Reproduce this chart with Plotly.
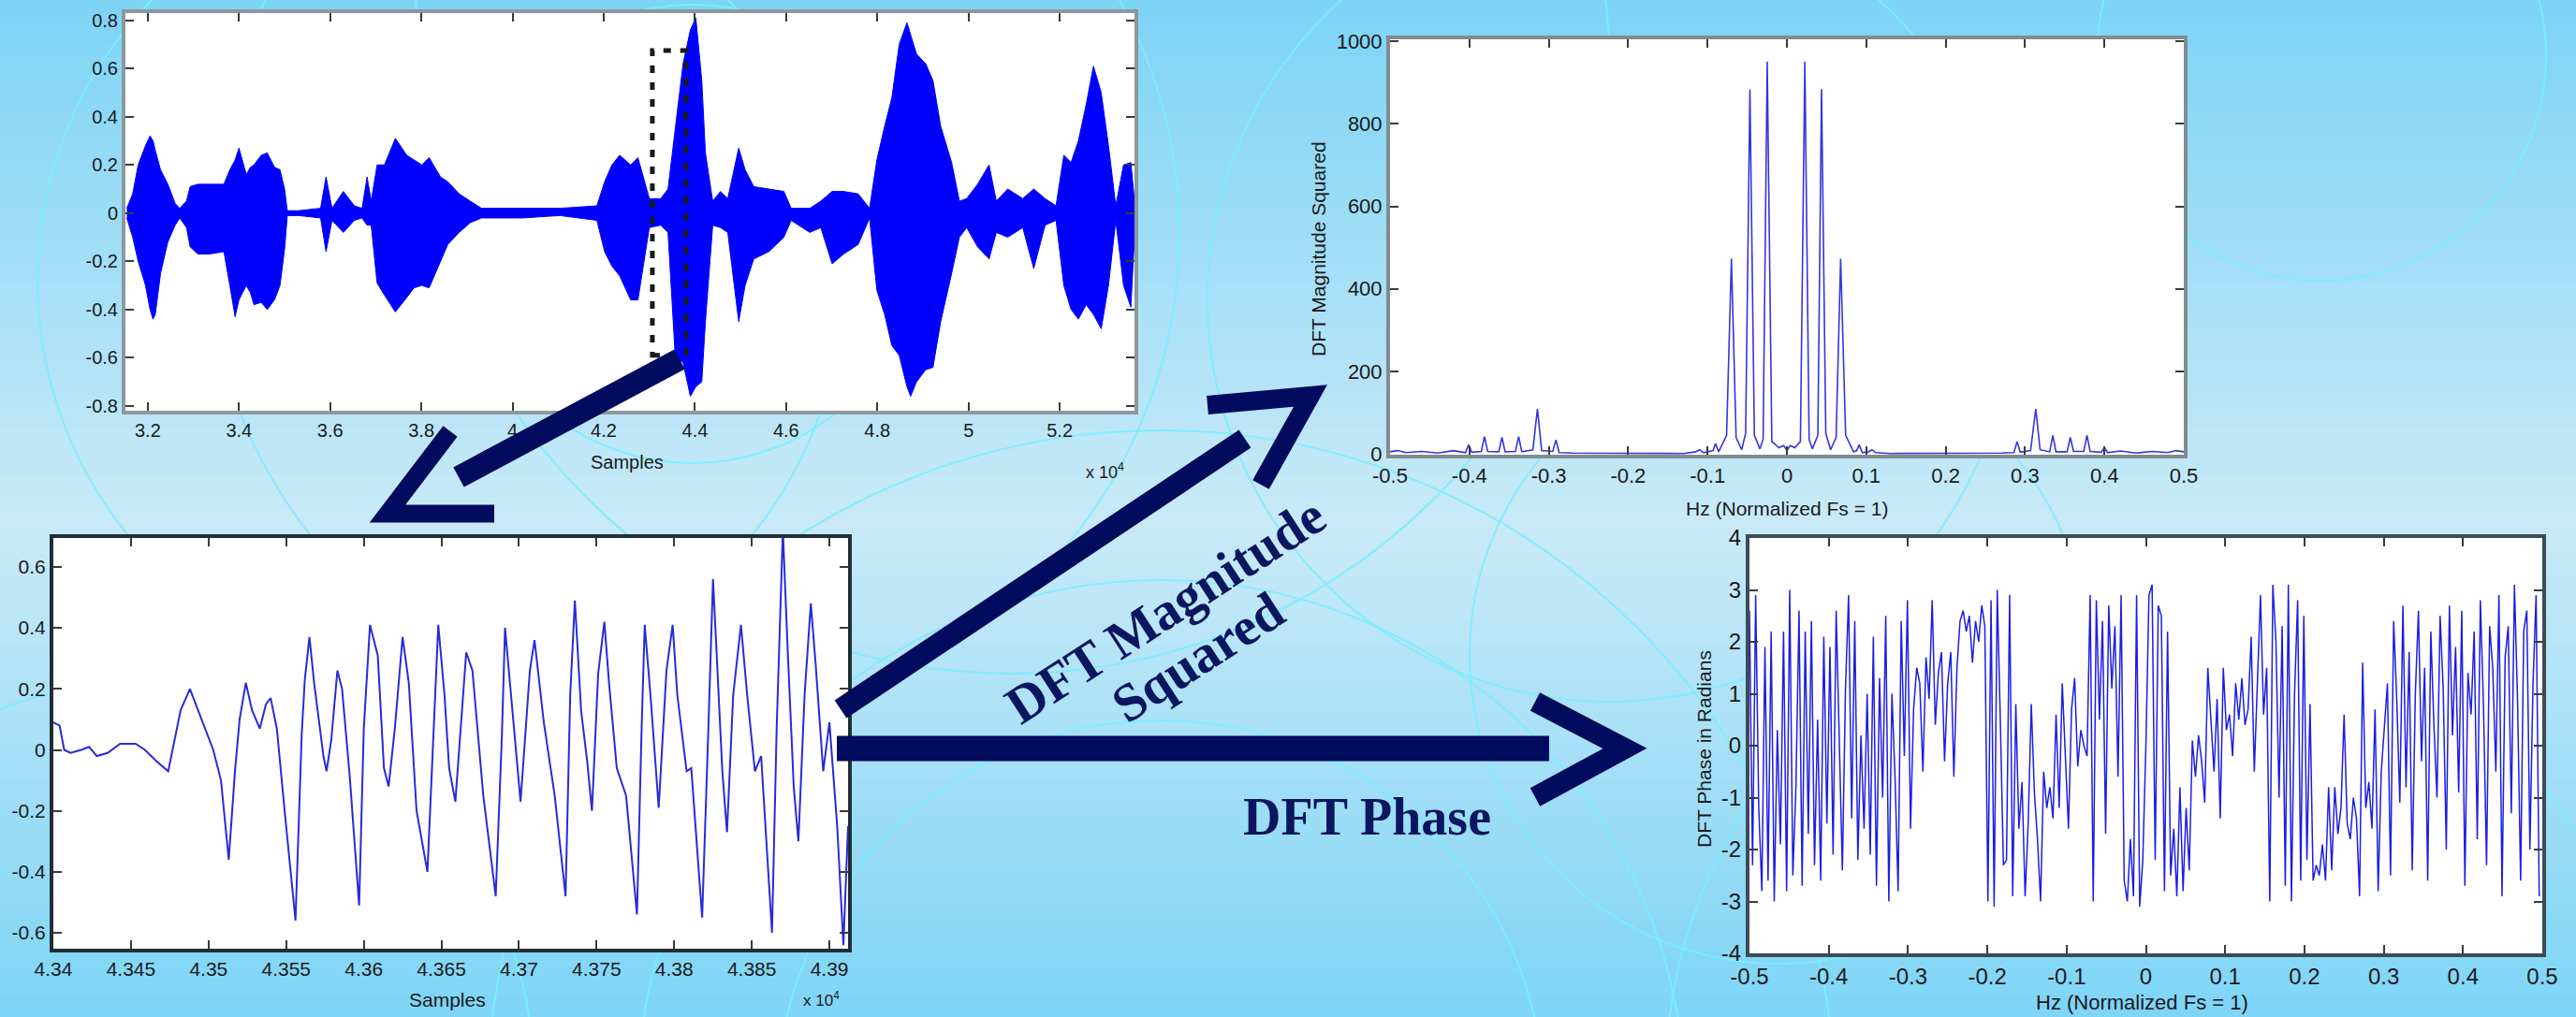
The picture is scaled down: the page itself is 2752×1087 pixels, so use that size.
import plotly.graph_objects as go

W, H = 2752, 1087

# ---------------- data ----------------
# Top-left: whole utterance, envelope of the waveform (sample index, upper, lower)
wave_x = [31540, 31670, 31790, 31950, 32050, 32115, 32165, 32280, 32440, 32600,
          32700, 32850, 32930, 33100, 33340, 33670, 33800, 33915, 34000, 34160,
          34250, 34330, 34490, 34620, 34780, 34900, 35000, 35060, 35300, 35790,
          35910, 36040, 36290, 36530, 36700, 36810, 36900, 37030, 37190, 37430,
          37680, 37840, 38010, 38170, 38420, 38580, 38830, 39070, 39320, 40220,
          41040, 41850, 42020, 42180, 42350, 42590, 42750, 43000, 43250, 43410,
          43570, 43740, 43900, 44020, 44150, 44230, 44390, 44560, 44720, 44960,
          45100, 45290, 45620, 45950, 46110, 46520, 46760, 47010, 47260, 47580,
          47830, 47990, 48160, 48320, 48480, 48650, 48730, 48860, 49060, 49220,
          49390, 49630, 49800, 49960, 50200, 50450, 50610, 50860, 51190, 51430,
          51680, 51920, 52090, 52250, 52410, 52580, 52740, 52910, 53070, 53230,
          53400, 53560, 53640]
wave_hi = [0.02, 0.08, 0.20, 0.28, 0.32, 0.30, 0.26, 0.18, 0.12, 0.04,
           0.02, 0.05, 0.11, 0.12, 0.12, 0.12, 0.18, 0.22, 0.27, 0.16,
           0.19, 0.20, 0.24, 0.25, 0.19, 0.18, 0.10, 0.01, 0.01, 0.02,
           0.15, 0.02, 0.09, 0.03, 0.02, 0.15, 0.05, 0.20, 0.20, 0.31,
           0.24, 0.22, 0.20, 0.23, 0.15, 0.13, 0.08, 0.05, 0.02, 0.02,
           0.02, 0.03, 0.13, 0.20, 0.24, 0.20, 0.23, 0.06, 0.06, 0.10,
           0.35, 0.62, 0.76, 0.81, 0.55, 0.25, 0.05, 0.09, 0.06, 0.27,
           0.18, 0.11, 0.10, 0.09, 0.02, 0.02, 0.05, 0.09, 0.09, 0.08,
           0.02, 0.22, 0.36, 0.48, 0.70, 0.79, 0.74, 0.66, 0.62, 0.55,
           0.36, 0.21, 0.05, 0.06, 0.12, 0.20, 0.05, 0.10, 0.06, 0.10,
           0.06, 0.03, 0.24, 0.21, 0.30, 0.45, 0.61, 0.50, 0.28, 0.03,
           0.20, 0.21, 0.05]
wave_lo = [-0.02, -0.10, -0.20, -0.30, -0.40, -0.44, -0.42, -0.25, -0.12, -0.05,
           -0.02, -0.06, -0.14, -0.17, -0.17, -0.16, -0.30, -0.43, -0.36, -0.30,
           -0.33, -0.38, -0.37, -0.40, -0.36, -0.30, -0.15, -0.01, -0.01, -0.02,
           -0.16, -0.03, -0.08, -0.03, -0.02, -0.05, -0.05, -0.29, -0.34, -0.41,
           -0.35, -0.31, -0.30, -0.31, -0.20, -0.13, -0.08, -0.04, -0.02, -0.02,
           -0.01, -0.03, -0.16, -0.22, -0.26, -0.36, -0.36, -0.06, -0.05, -0.08,
           -0.60, -0.62, -0.76, -0.72, -0.70, -0.45, -0.05, -0.06, -0.08, -0.45,
           -0.30, -0.19, -0.16, -0.10, -0.03, -0.08, -0.06, -0.21, -0.17, -0.13,
           -0.02, -0.32, -0.42, -0.55, -0.59, -0.72, -0.76, -0.70, -0.65, -0.64,
           -0.45, -0.25, -0.10, -0.06, -0.14, -0.19, -0.08, -0.10, -0.06, -0.23,
           -0.05, -0.03, -0.30, -0.40, -0.44, -0.38, -0.42, -0.48, -0.30, -0.03,
           -0.30, -0.39, -0.10]

# Bottom-left: the 512-sample excerpt
seg_x = [43400, 43404, 43407, 43411, 43418, 43423, 43428, 43435, 43443, 43453,
         43459, 43467, 43474, 43482, 43488, 43496, 43503, 43508, 43513, 43517,
         43520, 43524, 43528, 43533, 43537, 43540, 43544, 43549, 43556, 43560,
         43562, 43565, 43568, 43574, 43576, 43579, 43583, 43586, 43591, 43597,
         43600, 43604, 43609, 43613, 43616, 43620, 43625, 43629, 43634, 43641,
         43645, 43648, 43652, 43655, 43659, 43666, 43670, 43677, 43685, 43689,
         43691, 43696, 43701, 43707, 43710, 43716, 43723, 43730, 43733, 43736,
         43740, 43744, 43747, 43751, 43755, 43758, 43763, 43769, 43776, 43779,
         43781, 43785, 43790, 43795, 43799, 43802, 43808, 43811, 43818, 43822,
         43825, 43831, 43834, 43838, 43843, 43847, 43852, 43856, 43863, 43866,
         43870, 43873, 43877, 43880, 43884, 43888, 43891, 43896, 43900, 43905,
         43909, 43912]
seg_y = [0.09, 0.08, 0.00, -0.01, 0.00, 0.01, -0.02, -0.01, 0.02, 0.02,
         0.00, -0.04, -0.07, 0.13, 0.20, 0.09, 0.00, -0.10, -0.36, -0.07,
         0.10, 0.22, 0.13, 0.07, 0.15, 0.17, 0.07, -0.20, -0.56, 0.05,
         0.23, 0.37, 0.22, -0.02, -0.07, 0.03, 0.26, 0.20, -0.09, -0.51,
         0.07, 0.41, 0.31, -0.06, -0.12, 0.07, 0.37, 0.22, -0.20, -0.40,
         0.04, 0.41, 0.18, -0.06, -0.17, 0.32, 0.26, -0.15, -0.48, 0.05,
         0.40, 0.12, -0.17, 0.26, 0.36, 0.09, -0.15, -0.48, 0.18, 0.49,
         0.13, -0.04, -0.20, 0.25, 0.42, 0.22, -0.06, -0.15, -0.54, 0.07,
         0.41, 0.16, -0.19, 0.26, 0.41, 0.18, -0.07, -0.06, -0.55, 0.07,
         0.56, -0.07, -0.27, 0.18, 0.41, 0.18, -0.07, -0.02, -0.60, 0.07,
         0.72, 0.34, -0.12, -0.30, 0.18, 0.48, 0.29, -0.07, 0.09, -0.25,
         -0.64, -0.25]

# Top-right: DFT magnitude squared
mag_f = [-0.5, -0.49, -0.48, -0.46, -0.44, -0.42, -0.405, -0.401, -0.397, -0.385,
         -0.381, -0.377, -0.363, -0.359, -0.355, -0.342, -0.338, -0.334, -0.32, -0.3143,
         -0.309, -0.295, -0.291, -0.287, -0.27, -0.2, -0.13, -0.115, -0.11, -0.105,
         -0.093, -0.09, -0.086, -0.076, -0.0699, -0.064, -0.057, -0.052, -0.0466, -0.041,
         -0.034, -0.03, -0.0248, -0.019, -0.01, -0.004, 0.0, 0.004, 0.01, 0.017,
         0.0226, 0.028, 0.032, 0.039, 0.0436, 0.049, 0.055, 0.062, 0.0677, 0.074,
         0.084, 0.088, 0.091, 0.095, 0.103, 0.107, 0.112, 0.13, 0.2, 0.27,
         0.286, 0.29, 0.294, 0.307, 0.3135, 0.319, 0.331, 0.335, 0.339, 0.353,
         0.357, 0.361, 0.374, 0.378, 0.382, 0.396, 0.4, 0.404, 0.42, 0.44,
         0.46, 0.48, 0.49, 0.5]
mag_v = [5, 8, 3, 6, 2, 8, 3, 22, 4, 6,
         42, 6, 5, 40, 5, 6, 42, 5, 10, 109,
         8, 6, 34, 3, 2, 1, 1, 5, 10, 3,
         8, 25, 5, 45, 473, 40, 10, 50, 883, 45,
         12, 35, 951, 30, 15, 20, 8, 20, 15, 30,
         951, 35, 12, 45, 884, 50, 10, 40, 473, 45,
         5, 8, 22, 3, 5, 10, 3, 1, 1, 2,
         3, 30, 4, 8, 109, 10, 5, 45, 5, 5,
         40, 6, 6, 45, 6, 4, 15, 3, 7, 2,
         6, 3, 8, 5]

# Bottom-right: DFT phase (bins -128..-1 and 0..127 of a 256-point grid)
phase_neg = [2.6, -2.3, 2.9, -1.2, -2.8, 1.9, -2.6, 2.2, -3.0, 0.3,
             -1.9, 2.2, -2.8, 3.0, -2.5, -0.8, 2.6, -2.7, 2.2, -1.7,
             2.4, -2.3, 0.5, -2.6, 2.1, -1.5, 1.9, -2.1, 2.6, -0.2,
             -2.4, 1.1, 2.9, -1.4, 2.4, -2.2, 0.2, -1.6, 1.0, -2.1,
             2.1, -2.7, 1.3, -1.0, 2.5, -3.0, 1.0, -0.6, -2.8, 2.4,
             -0.2, 2.8, -1.6, 0.7, 1.5, 1.2, -0.5, 1.7, 0.9, 2.8,
             0.4, 1.4, 1.8, -0.3, 1.2, 1.8, -0.6,
             1.5, 2.4, 2.6, 2.2, 2.5, 1.6, 2.4, 2.0, 2.7, 2.3,
             -3.0, 2.8, -3.1, 3.0, 0.5, -2.3, -2.2, 2.9, -2.9, 0.8, -1.6,
             -0.7, -2.9, -1.5, 0.8, -0.9, -1.8, -3.0, -0.5, -1.2, -0.8,
             -1.4, 0.6, -1.2, 1.2, -0.3, -1.6, 0.7, 1.3, -0.4, 0.3, 0.0, -0.2,
             2.9, -3.0, 2.8, 0.5, 2.4, -1.7, 2.7, 1.1, 2.3, -0.6, 2.9,
             -2.6, -3.0, -1.8, -2.9, 2.9, -3.1, -2.2]
phase_pos = [0.0, 2.9, 3.1, -2.2, 2.7, 2.5, -2.8, 2.2,
             -2.5, -1.6, -2.9, -0.8, -2.8, -1.2, -2.4, 0.1, -0.6, 0.2, -0.3,
             -1.1, 1.5, 0.4, -0.5, 0.9, -1.4, 1.5, 0.3, 0.6, -0.2, 1.2, 0.5,
             1.3, 0.4, 0.7, 2.1, -0.5, 1.1, 2.9, 0.6, 1.5, -3.0,
             3.1, 2.0, -1.0, 2.3, -2.7, 3.1, -3.0, 1.0, 2.8, -2.6, 2.5,
             -2.2, 0.8, -2.6, -2.3, -2.5, -1.9, -2.6, -0.8, -2.4,
             -0.8, -1.7, -1.2, 0.6, -1.5, -1.8, -1.0, -1.4, -2.9, 1.6,
             -1.2, -0.7, -1.6, 0.7, -2.8, -0.5, 0.3,
             1.2, -2.5, 2.4, 0.9, -1.1, 2.7, -0.8, 1.8, -2.4, 1.0,
             2.6, -0.3, 1.5, -2.6, 2.2, 0.4, -1.0, 2.5, 1.1, -2.0,
             2.7, 0.2, 1.9, -0.9, 2.6, -2.7, 1.4, 0.6, 2.2, -1.8,
             2.8, 0.8, -2.3, 2.3, 1.5, -0.5, 2.9, -2.9, 1.7, 2.3,
             -1.3, 3.1, 0.9, -2.6, 2.2, 2.6, -2.0, 1.2, 2.9, -2.9]
phase_n = 256

# Tick values / labels
tl_xticks = [32000, 34000, 36000, 38000, 40000, 42000, 44000, 46000, 48000, 50000, 52000]
tl_xtext = ["3.2", "3.4", "3.6", "3.8", "4", "4.2", "4.4", "4.6", "4.8", "5", "5.2"]
tl_yticks = [-0.8, -0.6, -0.4, -0.2, 0, 0.2, 0.4, 0.6, 0.8]
tl_ytext = ["-0.8", "-0.6", "-0.4", "-0.2", "0", "0.2", "0.4", "0.6", "0.8"]
bl_xticks = [43400, 43450, 43500, 43550, 43600, 43650, 43700, 43750, 43800, 43850, 43900]
bl_xtext = ["4.34", "4.345", "4.35", "4.355", "4.36", "4.365", "4.37", "4.375", "4.38", "4.385", "4.39"]
bl_yticks = [-0.6, -0.4, -0.2, 0, 0.2, 0.4, 0.6]
bl_ytext = ["-0.6", "-0.4", "-0.2", "0", "0.2", "0.4", "0.6"]
hz_ticks = [-0.5, -0.4, -0.3, -0.2, -0.1, 0, 0.1, 0.2, 0.3, 0.4, 0.5]
hz_text = ["-0.5", "-0.4", "-0.3", "-0.2", "-0.1", "0", "0.1", "0.2", "0.3", "0.4", "0.5"]
mag_yticks = [0, 200, 400, 600, 800, 1000]
ph_yticks = [-4, -3, -2, -1, 0, 1, 2, 3, 4]

# ---------------- helpers (layout geometry) ----------------
def PX(x):
    return x / W

def PY(y):
    return 1 - y / H

NAVY = "#030b5e"
TICKFONT = "Liberation Sans, Arial, sans-serif"
SERIF = "Liberation Serif, Times New Roman, serif"

fig = go.Figure()

# traces
fig.add_trace(go.Scatter(
    x=wave_x + wave_x[::-1], y=wave_hi + wave_lo[::-1],
    fill="toself", fillcolor="#0000ff", mode="lines",
    line=dict(color="#0000ff", width=1), xaxis="x", yaxis="y", hoverinfo="skip"))
fig.add_trace(go.Scatter(
    x=seg_x, y=seg_y, mode="lines",
    line=dict(color="#2a2ad8", width=2), xaxis="x2", yaxis="y2"))
fig.add_trace(go.Scatter(
    x=mag_f, y=mag_v, mode="lines",
    line=dict(color="#3535dc", width=1.6), xaxis="x3", yaxis="y3"))
ph_vals = phase_neg + phase_pos
ph_f = [(i - len(phase_neg)) / phase_n for i in range(len(ph_vals))]
fig.add_trace(go.Scatter(
    x=ph_f, y=ph_vals, mode="lines",
    line=dict(color="#1e1ee0", width=1.5), xaxis="x4", yaxis="y4"))

# ---------------- axes ----------------
def ax(domain, rng, anchor, tickvals, ticktext, linecolor, size=20, **kw):
    d = dict(domain=domain, range=rng, anchor=anchor, tickmode="array",
             tickvals=tickvals, ticktext=ticktext, showline=True, mirror="allticks",
             linecolor=linecolor, linewidth=4, ticks="inside", ticklen=9,
             tickwidth=2, tickcolor="#3a3a3a", showgrid=False, zeroline=False,
             automargin=False,
             tickfont=dict(family=TICKFONT, size=size, color="#1a1a1a"))
    d.update(kw)
    return d

tl_xd = [PX(134), PX(1212)]; tl_yd = [PY(439), PY(14)]
bl_xd = [PX(57), PX(906)];   bl_yd = [PY(1014), PY(575)]
tr_xd = [PX(1485), PX(2333)]; tr_yd = [PY(486), PY(42)]
br_xd = [PX(1869), PX(2716)]; br_yd = [PY(1019), PY(575)]

fig.update_layout(
    xaxis=ax(tl_xd, [31510, 53640], "y", tl_xticks, tl_xtext, "#8c989c"),
    yaxis=ax(tl_yd, [-0.82, 0.83], "x", tl_yticks, tl_ytext, "#8c989c"),
    xaxis2=ax(bl_xd, [43400, 43912], "y2", bl_xticks, bl_xtext, "#1f2e38", size=21),
    yaxis2=ax(bl_yd, [-0.652, 0.695], "x2", bl_yticks, bl_ytext, "#1f2e38", size=21),
    xaxis3=ax(tr_xd, [-0.5, 0.5], "y3", hz_ticks, hz_text, "#7f8c90", size=22),
    yaxis3=ax(tr_yd, [-2, 1005], "x3", mag_yticks, [str(v) for v in mag_yticks], "#7f8c90",
              size=22, zeroline=True, zerolinecolor="#101a70", zerolinewidth=4),
    xaxis4=ax(br_xd, [-0.5, 0.5], "y4", hz_ticks, hz_text, "#3c4c56", size=24),
    yaxis4=ax(br_yd, [-4, 4], "x4", ph_yticks, [str(v) for v in ph_yticks], "#3c4c56", size=24),
)

# ---------------- background ----------------
shapes = []
stops = [(0, (125, 212, 246)), (560, (202, 234, 248)), (H, (126, 213, 246))]
N = 90
for i in range(N):
    y0 = i * H / N
    y1 = (i + 1) * H / N + 1
    yc = (y0 + y1) / 2
    for (a, ca), (b, cb) in zip(stops[:-1], stops[1:]):
        if a <= yc <= b:
            t = (yc - a) / (b - a)
            c = tuple(int(ca[k] + (cb[k] - ca[k]) * t) for k in range(3))
            break
    shapes.append(dict(type="rect", xref="paper", yref="paper", layer="below",
                       x0=-0.01, x1=1.01, y0=PY(y1), y1=PY(y0),
                       fillcolor="rgb(%d,%d,%d)" % c, line=dict(width=0)))

circles = [(470, 300, 430), (740, 250, 245), (740, 250, 520), (1240, 1180, 560),
           (1240, 1180, 410), (1240, 1180, 720), (2480, 60, 240), (1720, 320, 430),
           (1080, 80, 640), (150, 1150, 420), (2300, 1150, 520), (1900, 700, 330)]
for cx, cy, r in circles:
    shapes.append(dict(type="circle", xref="paper", yref="paper", layer="below",
                       x0=PX(cx - r), x1=PX(cx + r), y0=PY(cy + r), y1=PY(cy - r),
                       line=dict(color="rgba(120,238,255,0.85)", width=2)))

for xd, yd in [(tl_xd, tl_yd), (bl_xd, bl_yd), (tr_xd, tr_yd), (br_xd, br_yd)]:
    shapes.append(dict(type="rect", xref="paper", yref="paper", layer="below",
                       x0=xd[0], x1=xd[1], y0=yd[0], y1=yd[1],
                       fillcolor="white", line=dict(width=0)))

# dashed selection box in the top-left plot
shapes.append(dict(type="rect", xref="x", yref="y", layer="above",
                   x0=43066, x1=43805, y0=-0.59, y1=0.675,
                   line=dict(color="#1a1a1a", width=5, dash="8px,10px")))

# arrows
def seg(p0, p1, w):
    return dict(type="line", xref="paper", yref="paper", layer="above",
                x0=PX(p0[0]), y0=PY(p0[1]), x1=PX(p1[0]), y1=PY(p1[1]),
                line=dict(color=NAVY, width=w))

def chevron(pts, w):
    path = "M " + " L ".join("%f %f" % (PX(x), PY(y)) for x, y in pts)
    return dict(type="path", xref="paper", yref="paper", layer="above", path=path,
                line=dict(color=NAVY, width=w))

shapes += [
    seg((726, 384), (490, 510), 24),
    chevron([(481, 461), (414, 549), (528, 549)], 19),
    seg((898, 758), (1330, 469), 23),
    chevron([(1290, 433), (1400, 423), (1347, 518)], 20),
    seg((894, 800), (1655, 800), 27),
    chevron([(1640, 750), (1736, 800), (1640, 852)], 22),
]

# ---------------- text ----------------
def ann(text, x, y, size=20, angle=0, family=TICKFONT, color="#1a1a1a", bold=False):
    if bold:
        text = "<b>" + text + "</b>"
    return dict(text=text, x=PX(x), y=PY(y), xref="paper", yref="paper",
                showarrow=False, textangle=angle, xanchor="center", yanchor="middle",
                font=dict(family=family, size=size, color=color))

annotations = [
    ann("Samples", 670, 494, 20),
    ann("x 10<sup>4</sup>", 1180, 503, 18),
    ann("Samples", 478, 1068, 21),
    ann("x 10<sup>4</sup>", 877, 1068, 17),
    ann("Hz (Normalized Fs = 1)", 1909, 543, 21),
    ann("DFT Magnitude Squared", 1409, 266, 21, angle=-90),
    ann("Hz (Normalized Fs = 1)", 2288, 1071, 22),
    ann("DFT Phase in Radians", 1820, 800, 21, angle=-90),
    ann("DFT Magnitude", 1244, 652, 57, angle=-33, family=SERIF, color="#0b1660", bold=True),
    ann("Squared", 1279, 702, 57, angle=-33, family=SERIF, color="#0b1660", bold=True),
    ann("DFT Phase", 1460, 873, 56, family=SERIF, color="#0b1660", bold=True),
]

fig.update_layout(
    width=W, height=H, autosize=False, margin=dict(l=0, r=0, t=0, b=0, pad=0, autoexpand=False),
    paper_bgcolor="#a8def7", plot_bgcolor="rgba(0,0,0,0)",
    showlegend=False, shapes=shapes, annotations=annotations,
)

fig.write_html(
    "out.html",
    config={"responsive": False, "displayModeBar": False},
    post_script="document.body.style.margin='0';document.body.style.padding='0';"
                "document.body.style.overflow='hidden';"
                "document.documentElement.style.overflow='hidden';",
)
